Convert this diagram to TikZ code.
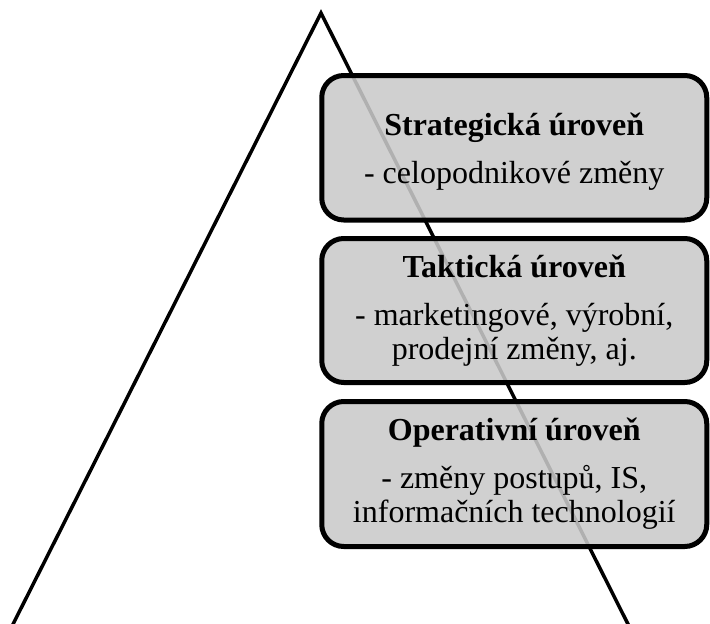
\documentclass[tikz,border=0pt]{standalone}
\usepackage{fontspec}
\setmainfont{Liberation Serif}
\definecolor{boxfill}{gray}{0.79}
\tikzset{
  levelbox/.style={draw=black, line width=5pt, rounded corners=22pt,
    fill=boxfill, fill opacity=0.88, text opacity=1,
    minimum width=385pt, align=center, inner sep=0pt,
    font=\fontsize{32}{34}\selectfont},
  tri/.style={line width=3.5pt, black}
}
\begin{document}
\begin{tikzpicture}[x=1pt,y=-1pt]
\clip (0,0) rectangle (710,624);
\coordinate (apex) at (321,13);
\coordinate (bl) at (0,650);
\coordinate (br) at (641,650);
\draw[tri] (bl) -- (apex) -- (br);
\node[levelbox, minimum height=144.5pt, text depth=0pt] (s) at (514.25,147.75)
  {\textbf{Strategická úroveň}\\[14pt]- celopodnikové změny};
\node[levelbox, minimum height=144pt] (t) at (514.25,310.5)
  {\textbf{Taktická úroveň}\\[14pt]- marketingové, výrobní,\\prodejní změny, aj.};
\node[levelbox, minimum height=145pt] (o) at (514.25,474)
  {\textbf{Operativní úroveň}\\[14pt]- změny postupů, IS,\\informačních technologií};
\end{tikzpicture}
\end{document}
